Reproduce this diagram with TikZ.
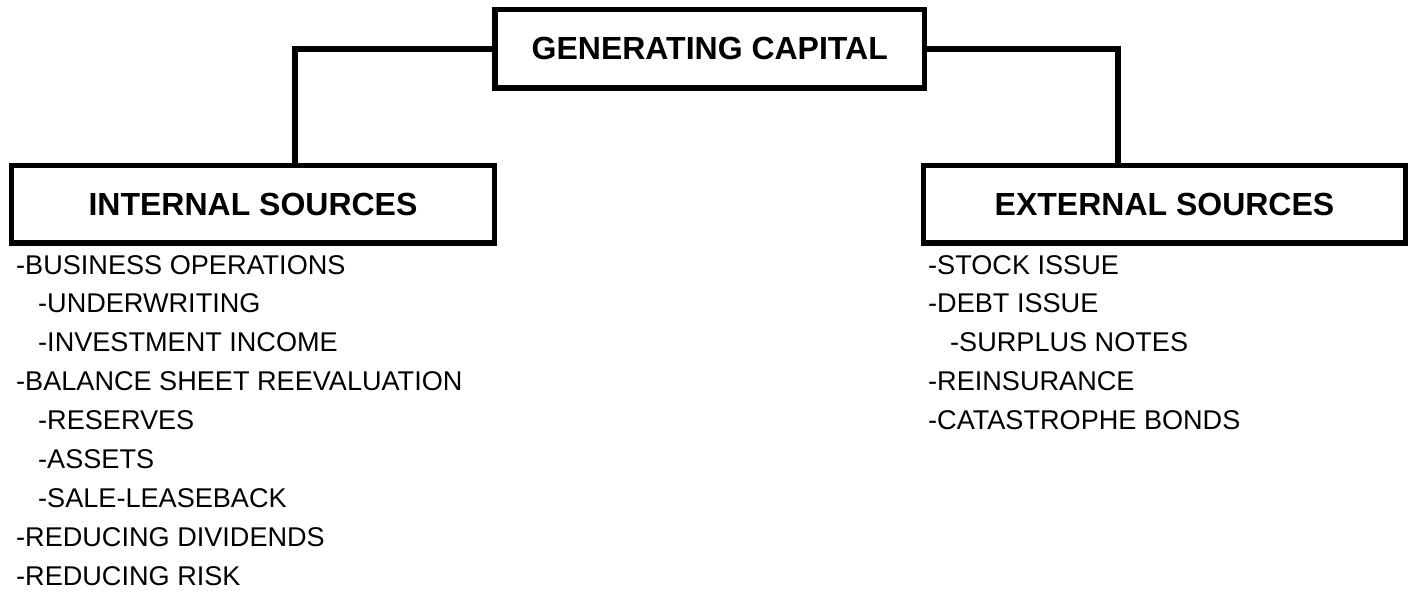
\documentclass[tikz,border=0pt]{standalone}
\usepackage{fontspec}
\setmainfont{Liberation Sans}
\begin{document}
\begin{tikzpicture}[x=1pt,y=-1pt,
  heading/.style={draw=black, line width=5.5pt, rectangle, inner sep=0pt,
    font=\fontsize{32}{38}\selectfont\bfseries},
  link/.style={line width=5.5pt, line join=miter},
  item/.style={inner sep=0pt, anchor=base west,
    font=\fontsize{27.1}{32}\selectfont}]
  \useasboundingbox (0,0) rectangle (1422,595);

  % the three headed boxes
  \node[heading, minimum width=429.5pt, minimum height=78.5pt] (top) at (709.75,48.75) {GENERATING CAPITAL};
  \node[heading, minimum width=483pt, minimum height=77.5pt] (int) at (253,204.25) {INTERNAL SOURCES};
  \node[heading, minimum width=482pt, minimum height=77.5pt] (ext) at (1164.5,204.25) {EXTERNAL SOURCES};

  % joints on the tops of the lower boxes
  \coordinate (intjoin) at ([xshift=286pt]int.north west);
  \coordinate (extjoin) at ([xshift=197pt]ext.north west);
  \draw[link] (top.west) -| (intjoin);
  \draw[link] (top.east) -| (extjoin);

  % internal sources
  \foreach [count=\i] \t/\ind in {
      -BUSINESS OPERATIONS/0,
      -UNDERWRITING/22,
      -INVESTMENT INCOME/22,
      -BALANCE SHEET REEVALUATION/0,
      -RESERVES/22,
      -ASSETS/22,
      -SALE-LEASEBACK/22,
      -REDUCING DIVIDENDS/0,
      -REDUCING RISK/0}
    \node[item] (in\i) at (16+\ind,274+38.9*\i-38.9) {\t};

  % external sources
  \foreach [count=\i] \t/\ind in {
      -STOCK ISSUE/0,
      -DEBT ISSUE/0,
      -SURPLUS NOTES/22,
      -REINSURANCE/0,
      -CATASTROPHE BONDS/0}
    \node[item] (ex\i) at (928+\ind,274+38.9*\i-38.9) {\t};
\end{tikzpicture}
\end{document}
